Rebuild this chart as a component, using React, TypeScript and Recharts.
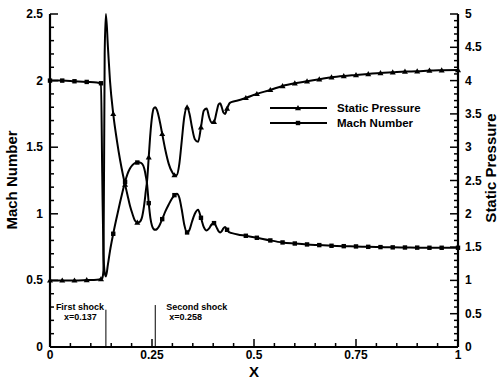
import React from 'react';
import { LineChart, Line, XAxis, YAxis, Legend, ReferenceLine } from 'recharts';

// x stations shared by both curves
const X_POS = [
  0, 0.03, 0.06, 0.09, 0.115, 0.125, 0.128, 0.131, 0.134, 0.137, 0.142, 0.147, 0.155, 0.164, 0.172, 0.179,
  0.184, 0.19, 0.196, 0.202, 0.208, 0.214, 0.22, 0.226, 0.231, 0.235, 0.238, 0.242, 0.246, 0.25, 0.254,
  0.258, 0.262, 0.268, 0.275, 0.283, 0.291, 0.299, 0.305, 0.311, 0.317, 0.323, 0.329, 0.336, 0.342, 0.348,
  0.355, 0.363, 0.37, 0.377, 0.384, 0.39, 0.396, 0.402, 0.408, 0.413, 0.417, 0.421, 0.425, 0.429, 0.434,
  0.44, 0.446, 0.46, 0.48, 0.507, 0.54, 0.57, 0.6, 0.63, 0.66, 0.69, 0.72, 0.75, 0.78, 0.81, 0.84, 0.87,
  0.9, 0.93, 0.96, 1.0,
];

// left axis
const MACH = [
  2.0, 2.0, 1.995, 1.99, 1.985, 1.98, 1.3, 0.7, 0.56, 0.53, 0.62, 0.72, 0.85, 0.98, 1.09, 1.18,
  1.24, 1.3, 1.34, 1.365, 1.38, 1.385, 1.385, 1.375, 1.34, 1.28, 1.22, 1.08, 0.97, 0.91, 0.885,
  0.88, 0.885, 0.91, 0.96, 1.02, 1.07, 1.115, 1.14, 1.15, 1.12, 1.03, 0.92, 0.86, 0.88, 0.94,
  1.0, 1.03, 0.97, 0.9, 0.875, 0.89, 0.92, 0.93, 0.9, 0.87, 0.86, 0.87, 0.89, 0.9, 0.88,
  0.86, 0.855, 0.845, 0.835, 0.82, 0.8, 0.785, 0.777, 0.77, 0.765, 0.76, 0.757, 0.755, 0.752, 0.75, 0.748, 0.747,
  0.746, 0.745, 0.745, 0.745,
];

// right axis
const PRESSURE = [
  1.0, 1.0, 1.0, 1.005, 1.01, 1.02, 1.03, 1.15, 4.4, 5.0, 4.5, 4.0, 3.5, 3.1, 2.8, 2.58,
  2.44, 2.28, 2.12, 2.0, 1.9, 1.87, 1.88, 1.96, 2.14, 2.35, 2.5, 2.85, 3.2, 3.45, 3.58,
  3.6, 3.56, 3.42, 3.2, 2.95, 2.75, 2.63, 2.58, 2.58, 2.75, 3.1, 3.45, 3.6, 3.5, 3.3,
  3.12, 3.08, 3.3, 3.55, 3.58, 3.45, 3.37, 3.38, 3.52, 3.64, 3.66, 3.6, 3.52, 3.5, 3.58,
  3.66, 3.68, 3.7, 3.74, 3.8, 3.86, 3.92, 3.96, 3.99, 4.02, 4.05, 4.07, 4.085, 4.1, 4.115, 4.125, 4.135,
  4.14, 4.15, 4.155, 4.16,
];

const X_LABELS = [0, 0.25, 0.5, 0.75, 1];
const MACH_LABELS = [0, 0.5, 1, 1.5, 2, 2.5];
const PRESSURE_LABELS = [0, 0.5, 1, 1.5, 2, 2.5, 3, 3.5, 4, 4.5, 5];

const SHOCKS = [
  { x: 0.137, top: 0.28, title: 'First shock', sub: 'x=0.137', side: 'left' },
  { x: 0.258, top: 0.315, title: 'Second shock', sub: 'x=0.258', side: 'right' },
];

const LEGEND_ITEMS = [
  { name: 'Static Pressure', shape: 'triangle' },
  { name: 'Mach Number', shape: 'square' },
];

const FONT = '"Liberation Sans", Arial, sans-serif';

const data = X_POS.map((x, i) => ({ x, mach: MACH[i], pressure: PRESSURE[i] }));

// minor tick positions
const steps = (max: number, step: number) => {
  const out: number[] = [];
  for (let i = 0; i * step <= max + 1e-9; i++) out.push(+(i * step).toFixed(3));
  return out;
};
const X_TICKS = steps(1, 0.05);
const MACH_TICKS = steps(2.5, 0.1);
const PRESSURE_TICKS = steps(5, 0.1);

const isMajor = (v: number, labels: number[]) => labels.some((l) => Math.abs(l - v) < 1e-6);

// symbols drawn roughly every 0.027 in x
const MARKED = new Set<number>();
{
  let last = -1;
  X_POS.forEach((x, i) => {
    if (x - last >= 0.027) {
      MARKED.add(i);
      last = x;
    }
  });
}

const Marker = ({ cx, cy, shape }: { cx: number; cy: number; shape: string }) =>
  shape === 'triangle' ? (
    <path d={`M${cx},${cy - 3} L${cx + 3},${cy + 2.2} L${cx - 3},${cy + 2.2} Z`} fill="#000" />
  ) : (
    <rect x={cx - 2.2} y={cy - 2.2} width={4.4} height={4.4} fill="#000" />
  );

const makeDot = (shape: string) => (props: any) => {
  const { cx, cy, index } = props;
  if (!MARKED.has(index) || cx == null || cy == null) return <g key={`d-${index}`} />;
  return <Marker key={`d-${index}`} cx={cx} cy={cy} shape={shape} />;
};

const labelStyle = { fontFamily: FONT, fontWeight: 'bold' as const, fontSize: 12, fill: '#000' };

const XTick = ({ x, y, payload }: any) => {
  const major = isMajor(payload.value, X_LABELS);
  return (
    <g>
      <line x1={x} x2={x} y1={y} y2={y - (major ? 8 : 4)} stroke="#000" strokeWidth={1.5} />
      {major && (
        <text x={x} y={y + 12} textAnchor="middle" {...labelStyle}>
          {String(payload.value)}
        </text>
      )}
    </g>
  );
};

const LeftTick = ({ x, y, payload }: any) => {
  const major = isMajor(payload.value, MACH_LABELS);
  return (
    <g>
      <line x1={x} x2={x + (major ? 8 : 4)} y1={y} y2={y} stroke="#000" strokeWidth={1.5} />
      {major && (
        <text x={x - 7} y={y + 4} textAnchor="end" {...labelStyle}>
          {String(payload.value)}
        </text>
      )}
    </g>
  );
};

const RightTick = ({ x, y, payload }: any) => {
  const major = isMajor(payload.value, PRESSURE_LABELS);
  return (
    <g>
      <line x1={x} x2={x - (major ? 8 : 4)} y1={y} y2={y} stroke="#000" strokeWidth={1.5} />
      {major && (
        <text x={x + 7} y={y + 4} textAnchor="start" {...labelStyle}>
          {String(payload.value)}
        </text>
      )}
    </g>
  );
};

const renderLegend = () => (
  <svg width={170} height={32}>
    {LEGEND_ITEMS.map((item, i) => {
      const y = 8 + i * 15;
      return (
        <g key={item.name}>
          <line x1={2} x2={59} y1={y} y2={y} stroke="#000" strokeWidth={1.8} />
          <Marker cx={30} cy={y} shape={item.shape} />
          <text x={69} y={y + 4} fontFamily={FONT} fontWeight="bold" fontSize={11.5} fill="#000">
            {item.name}
          </text>
        </g>
      );
    })}
  </svg>
);

const shockLabel = (shock: (typeof SHOCKS)[number]) => (props: any) => {
  const { viewBox } = props;
  if (!viewBox) return null;
  const lx = viewBox.x;
  const base = viewBox.y + viewBox.height; // x-axis line
  const left = shock.side === 'left';
  const textProps = { fontFamily: FONT, fontWeight: 'bold' as const, fontSize: 9, fill: '#000' };
  return (
    <g>
      <text x={left ? lx - 2 : lx + 11} y={base - 37} textAnchor={left ? 'end' : 'start'} {...textProps}>
        {shock.title}
      </text>
      <text x={left ? lx - 9 : lx + 14} y={base - 27} textAnchor={left ? 'end' : 'start'} {...textProps}>
        {shock.sub}
      </text>
    </g>
  );
};

export default function App() {
  return (
    <div style={{ position: 'absolute', left: 0, top: 0, width: 501, height: 379, background: '#fff' }}>
      <LineChart width={501} height={379} data={data} margin={{ top: 14, right: 0, bottom: 0, left: 0 }}>
        <XAxis
          dataKey="x"
          type="number"
          domain={[0, 1]}
          ticks={X_TICKS}
          interval={0}
          height={32}
          tickSize={0}
          tickMargin={0}
          tickLine={false}
          axisLine={{ stroke: '#000', strokeWidth: 2.2 }}
          tick={<XTick />}
          label={{
            content: () => (
              <text x={254} y={377} textAnchor="middle" fontFamily={FONT} fontWeight="bold" fontSize={15} fill="#000">
                X
              </text>
            ),
          }}
        />
        <YAxis
          yAxisId="mach"
          orientation="left"
          domain={[0, 2.5]}
          ticks={MACH_TICKS}
          interval={0}
          width={50}
          tickSize={0}
          tickMargin={0}
          tickLine={false}
          axisLine={{ stroke: '#000', strokeWidth: 2.2 }}
          tick={<LeftTick />}
          label={{
            content: () => (
              <text
                x={11}
                y={180}
                transform="rotate(-90 11 180)"
                textAnchor="middle"
                dominantBaseline="central"
                fontFamily={FONT}
                fontWeight="bold"
                fontSize={15}
                fill="#000"
              >
                Mach Number
              </text>
            ),
          }}
        />
        <YAxis
          yAxisId="pressure"
          orientation="right"
          domain={[0, 5]}
          ticks={PRESSURE_TICKS}
          interval={0}
          width={43}
          tickSize={0}
          tickMargin={0}
          tickLine={false}
          axisLine={{ stroke: '#000', strokeWidth: 2.2 }}
          tick={<RightTick />}
          label={{
            content: () => (
              <text
                x={490}
                y={168}
                transform="rotate(-90 490 168)"
                textAnchor="middle"
                dominantBaseline="central"
                fontFamily={FONT}
                fontWeight="bold"
                fontSize={15}
                fill="#000"
              >
                Static Pressure
              </text>
            ),
          }}
        />
        <Legend
          layout="vertical"
          align="center"
          verticalAlign="middle"
          content={renderLegend}
          wrapperStyle={{ top: 100, left: 268, width: 170 }}
        />
        {SHOCKS.map((s) => (
          <ReferenceLine
            key={s.title}
            yAxisId="mach"
            segment={[
              { x: s.x, y: s.top },
              { x: s.x, y: 0 },
            ]}
            stroke="#000"
            strokeWidth={1}
            label={shockLabel(s)}
          />
        ))}
        <Line
          yAxisId="pressure"
          dataKey="pressure"
          type="monotoneX"
          stroke="#000"
          strokeWidth={2}
          dot={makeDot('triangle')}
          activeDot={false}
          isAnimationActive={false}
        />
        <Line
          yAxisId="mach"
          dataKey="mach"
          type="monotoneX"
          stroke="#000"
          strokeWidth={2}
          dot={makeDot('square')}
          activeDot={false}
          isAnimationActive={false}
        />
      </LineChart>
    </div>
  );
}
